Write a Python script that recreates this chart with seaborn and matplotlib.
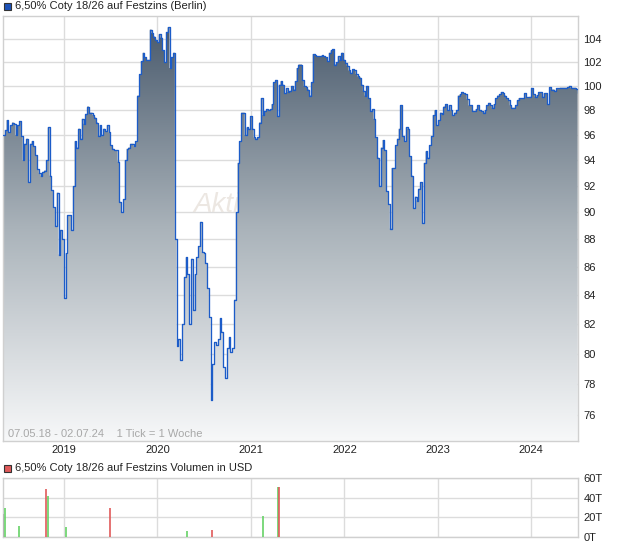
import numpy as np
import pandas as pd
import matplotlib
matplotlib.use('Agg')
import matplotlib.pyplot as plt
import seaborn as sns
from matplotlib.patches import Rectangle
from matplotlib.colors import LinearSegmentedColormap
from matplotlib.ticker import FixedLocator, NullLocator, FixedFormatter

# ---------------- data ----------------
start_date = '2018-05-07'
end_date = '2024-07-02'

price = [
    96.0, 96.4, 97.2, 96.2, 96.8, 97.0, 96.9, 96.0, 96.8, 97.1,
    95.9, 94.0, 95.3, 95.7, 92.3, 95.3, 95.5, 95.1, 94.4, 93.3,
    93.0, 92.8, 93.1, 93.2, 94.0, 96.6, 92.8, 91.7, 90.4, 89.0,
    91.5, 86.9, 88.7, 88.0, 83.8, 87.0, 89.8, 89.8, 88.7, 92.0,
    95.5, 95.0, 96.5, 95.7, 97.3, 96.9, 97.7, 98.3, 97.8, 97.8,
    97.6, 97.4, 97.0, 95.9, 96.8, 96.0, 96.5, 96.3, 96.8, 96.2,
    95.2, 94.9, 94.8, 94.8, 93.9, 90.8, 90.0, 91.0, 94.0, 94.9,
    95.0, 95.3, 95.3, 95.1, 95.5, 99.2, 101.0, 102.1, 102.8, 102.4,
    102.2, 102.2, 104.8, 104.5, 104.2, 103.9, 103.7, 104.4, 104.1, 103.0,
    102.0, 104.6, 105.0, 101.5, 102.4, 102.8, 88.0, 80.5, 81.0, 79.6,
    82.0, 85.3, 86.7, 85.5, 82.0, 86.6, 83.0, 85.5, 86.7, 87.5,
    89.3, 87.1, 87.0, 86.3, 84.5, 82.5, 77.0, 79.3, 80.8, 80.6,
    81.0, 82.4, 81.5, 79.1, 78.4, 80.4, 81.1, 80.1, 80.4, 83.7,
    90.0, 93.8, 95.5, 97.8, 97.8, 96.0, 96.6, 96.5, 97.5, 96.5,
    95.8, 95.7, 95.8, 97.0, 99.0, 97.6, 97.9, 98.1, 98.0, 98.1,
    98.5, 100.3, 100.5, 97.5, 100.1, 100.4, 100.1, 99.4, 99.8, 99.5,
    99.6,
    100.0, 99.7, 100.4, 101.5, 101.8, 101.8, 100.5, 100.0, 99.9, 99.7,
    99.2, 100.3, 102.7, 102.6, 102.5, 102.5, 102.5, 102.6, 102.5, 102.4,
    102.1, 102.8, 103.0, 103.1, 101.8, 102.0, 102.5, 102.2, 102.8, 102.2,
    101.9, 101.7, 101.3, 101.1, 101.4, 101.3, 101.0, 100.8, 100.7, 100.1,
    99.6, 99.2, 100.0, 99.0, 97.9, 98.1, 97.3, 95.8, 94.2, 92.0,
    95.0, 95.6, 94.8, 91.6, 90.6, 88.8, 93.4, 93.4, 95.2, 95.7,
    96.5, 98.4, 95.9, 95.5, 96.6, 96.5, 94.3, 92.8, 90.3, 91.2,
    90.9, 91.8, 92.3, 89.2, 93.8, 94.7, 94.2, 95.2, 95.9, 97.6,
    98.0, 96.8, 97.2, 97.8, 97.7, 98.3, 98.5, 98.0, 98.4, 98.0,
    97.6, 97.8, 98.0, 99.2, 99.3, 99.5, 99.4, 99.3, 98.9, 98.4,
    98.4, 97.9, 97.9, 98.1, 98.4, 98.0, 97.9, 97.8, 98.0, 98.4,
    98.6, 98.4, 98.2, 98.5, 99.0, 99.2, 99.3, 99.5, 99.4, 99.2,
    99.0, 98.8, 98.4, 98.2, 98.2, 98.4, 98.8, 99.0, 99.0, 99.0,
    99.4, 99.05, 99.05, 99.1, 99.8, 99.3, 99.1, 99.25, 99.5, 99.5,
    99.1, 99.4, 99.4, 98.5, 99.9, 99.7, 99.7, 99.6, 99.8, 99.8,
    99.85, 99.85, 99.85, 99.85, 99.9, 100.0, 99.85, 99.85, 99.85, 99.75,
    99.4,
]

vol_dates = ['2018-05-07', '2018-05-13', '2018-07-07', '2018-10-21', '2018-10-30',
             '2019-01-07', '2019-06-29', '2020-04-26', '2020-08-03', '2021-02-15',
             '2021-04-15', '2021-04-19']
vol_values = [23, 29, 11, 49, 42, 10, 29, 6, 7, 21, 51, 51]   # thousands (T)
vol_kind = ['flat', 'up', 'up', 'down', 'up', 'up', 'down', 'up', 'down', 'up', 'up', 'down']

price_ticks = [76, 78, 80, 82, 84, 86, 88, 90, 92, 94, 96, 98, 100, 102, 104]
vol_ticks = [0, 20, 40, 60]
vol_tick_labels = ['0T', '20T', '40T', '60T']
years = [2019, 2020, 2021, 2022, 2023, 2024]

title_main = '6,50% Coty 18/26 auf Festzins (Berlin)'
title_vol = '6,50% Coty 18/26 auf Festzins Volumen in USD'
range_note = '07.05.18 - 02.07.24    1 Tick = 1 Woche'

# ---------------- style ----------------
sns.set_theme(style='white')
plt.rcParams['font.family'] = ['Liberation Sans', 'DejaVu Sans']

W, H = 620, 546
fig = plt.figure(figsize=(W / 100, H / 100), dpi=100)
fig.patch.set_facecolor('white')

L, R = 3, 578
ax = fig.add_axes([L / W, 1 - 441 / H, (R - L) / W, (441 - 16) / H])
ax2 = fig.add_axes([L / W, 1 - 537 / H, (R - L) / W, (537 - 478) / H])

grid_c = '#dcdcdc'
xmin, xmax = pd.Timestamp(start_date), pd.Timestamp(end_date)

# ---------------- main price panel ----------------
dates = pd.date_range(start_date, periods=len(price), freq='7D')
df = pd.DataFrame({'date': dates, 'price': price})

ax.set_yscale('log')
ymin, ymax = 74.4, 106.0

poly = ax.fill_between(df['date'], df['price'], ymin, step='post',
                       facecolor='none', edgecolor='none')
cmap = LinearSegmentedColormap.from_list('g', ['#f7f8f9', '#aab3ba', '#46576a'])
grad = np.linspace(0, 1, 256).reshape(-1, 1)
im = ax.imshow(grad, extent=[0, 1, 0, 1], transform=ax.transAxes, origin='lower',
               cmap=cmap, aspect='auto', zorder=1, interpolation='bilinear')
im.set_clip_path(poly.get_paths()[0], ax.transData)

sns.lineplot(data=df, x='date', y='price', ax=ax, color='#1c5cc8', lw=0.95,
             drawstyle='steps-post', estimator=None, zorder=3)

ax.set_xlim(xmin, xmax)
ax.set_ylim(ymin, ymax)

wm = ax.text(193, H - 205, 'Aktiencheck', fontsize=20, style='italic',
             color='#ece7e2', ha='left', va='center', zorder=0.8)
wm.set_transform(matplotlib.transforms.IdentityTransform())

ax.yaxis.set_major_locator(FixedLocator(price_ticks))
ax.yaxis.set_minor_locator(NullLocator())
ax.yaxis.set_major_formatter(FixedFormatter([str(t) for t in price_ticks]))
ax.yaxis.tick_right()
year_dates = [pd.Timestamp(f'{y}-01-01') for y in years]
ax.set_xticks(year_dates)
ax.set_xticklabels([str(y) for y in years])
ax.tick_params(axis='both', length=0, labelsize=8, colors='#222222')
ax.tick_params(axis='y', pad=4)
ax.tick_params(axis='x', pad=3)
ax.set_axisbelow(True)
ax.grid(True, color=grid_c, lw=1)
ax.set_xlabel('')
ax.set_ylabel('')
for s in ax.spines.values():
    s.set_color('#d0d0d0')
    s.set_linewidth(1)

ax.text(5 / (R - L), 0.016, range_note, transform=ax.transAxes, fontsize=8,
        color='#a8a8a8', ha='left', va='center', zorder=4)

# ---------------- volume panel ----------------
colmap = {'up': '#66d266', 'down': '#e05a5a', 'flat': '#b0b0b0'}
vdf = pd.DataFrame({'date': pd.to_datetime(vol_dates), 'vol': vol_values, 'kind': vol_kind})
ax2.vlines(vdf['date'], 0, vdf['vol'], colors=[colmap[k] for k in vdf['kind']], lw=1.2, zorder=3)
ax2.set_xlim(xmin, xmax)
ax2.set_ylim(0, 60)
ax2.yaxis.set_major_locator(FixedLocator(vol_ticks))
ax2.yaxis.set_major_formatter(FixedFormatter(vol_tick_labels))
ax2.yaxis.tick_right()
ax2.set_xticks(year_dates)
ax2.set_xticklabels([])
ax2.tick_params(axis='both', length=0, labelsize=8, colors='#222222')
ax2.tick_params(axis='y', pad=4)
ax2.set_axisbelow(True)
ax2.grid(True, color=grid_c, lw=1)
for s in ax2.spines.values():
    s.set_color('#d0d0d0')
    s.set_linewidth(1)

# ---------------- headers ----------------
def header(y_px, color, text):
    fig.add_artist(Rectangle((4 / W, 1 - (y_px + 4) / H), 7 / W, 7 / H,
                             transform=fig.transFigure, facecolor=color,
                             edgecolor='#333333', lw=0.8))
    fig.text(15 / W, 1 - y_px / H, text, fontsize=8, color='#222222',
             ha='left', va='center')

header(6, '#1c52b8', title_main)
header(468, '#e05a5a', title_vol)

fig.savefig('out.png', dpi=100)
